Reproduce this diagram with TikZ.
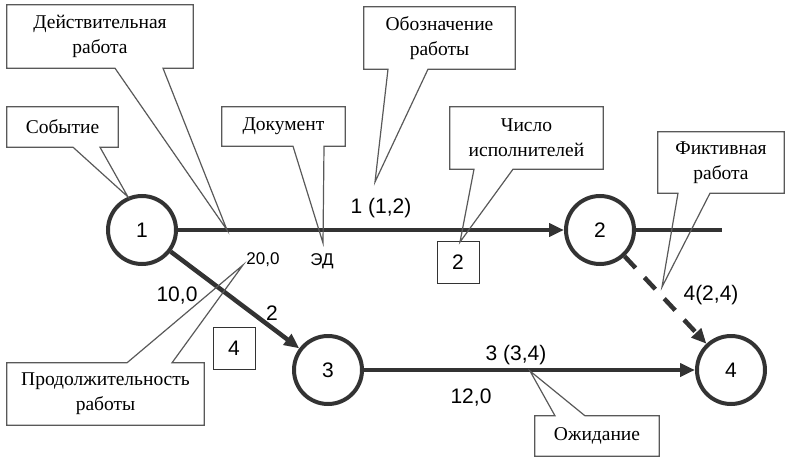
\documentclass[tikz,border=0pt]{standalone}
\usepackage{fontspec}
\setmainfont{Liberation Serif}
\setsansfont{Liberation Sans}
\usetikzlibrary{arrows.meta,positioning,calc}

\begin{document}
\begin{tikzpicture}[
    x=1pt, y=-1pt,
    event/.style={circle, draw=black!80, line width=4pt, minimum size=68pt, inner sep=0pt, font=\sffamily\fontsize{21}{24}\selectfont},
    work/.style={draw=black!80, line width=4.5pt, -{Triangle[length=15pt,width=13pt]}},
    dummy/.style={work, dash pattern=on 16pt off 13pt},
    note/.style={inner sep=0pt, align=center, font=\fontsize{19.5}{25}\selectfont},
    noteline/.style={draw=black!65, line width=1.2pt, line join=miter},
    num/.style={inner sep=0pt, font=\sffamily\fontsize{21}{24}\selectfont},
    small/.style={inner sep=0pt, font=\sffamily\fontsize{17}{20}\selectfont},
    crew/.style={draw=black!80, line width=1pt, minimum size=42pt, inner sep=0pt, font=\sffamily\fontsize{21}{24}\selectfont}
  ]
    \useasboundingbox (0,0) rectangle (793,463);

    % events
    \node[event] (n1) at (142,230) {1};
    \node[event] (n2) at (600,230) {2};
    \node[event] (n3) at (328,370) {3};
    \node[event] (n4) at (731,370) {4};
    \coordinate (n2out) at (722,230);

    % works
    \draw[work] (n1) -- (n2);
    \draw[work, -] (n2) -- (n2out);
    \draw[work] (n1) -- (n3);
    \draw[work] (n3) -- (n4);
    \draw[dummy] (n2) -- (n4);

    % work labels
    \node[num] (l12) at (381,208) {1 (1,2)};
    \node[small] (d12) at (263,260) {20,0};
    \node[small] (doc12) at (322,261) {ЭД};
    \node[num] (d13) at (177,296) {10,0};
    \node[num] (l13) at (272,313) {2};
    \node[crew] (c13) at (234,348) {4};
    \node[crew] (c12) at (458,262) {2};
    \node[num] (l24) at (711,295) {4(2,4)};
    \node[num] (l34) at (516,355) {3 (3,4)};
    \node[num] (d34) at (471,398) {12,0};

    % callouts
    \node[note, minimum width=186pt, minimum height=63pt] (nReal) at (100,36.5) {Действительная\\работа};
    \node[note, minimum width=111pt, minimum height=40pt] (nEvent) at (62.5,127) {Событие};
    \node[note, minimum width=123pt, minimum height=39pt] (nDoc) at (283.5,126.5) {Документ};
    \node[note, minimum width=151pt, minimum height=62pt] (nName) at (439.5,38) {Обозначение\\работы};
    \node[note, minimum width=153pt, minimum height=62pt] (nCrew) at (526.5,138) {Число\\исполнителей};
    \node[note, minimum width=126pt, minimum height=61pt] (nDummy) at (721,162.5) {Фиктивная\\работа};
    \node[note, minimum width=197pt, minimum height=62pt] (nDur) at (105.5,394) {Продолжительность\\работы};
    \node[note, minimum width=124pt, minimum height=40pt] (nWait) at (597,436) {Ожидание};

    \coordinate (tReal) at (227,230);
    \coordinate (tEvent) at (n1.113);
    \coordinate (tDoc) at (323,243);
    \coordinate (tName) at (375,182);
    \coordinate (tCrew) at (460,242);
    \coordinate (tDummy) at (662,287);
    \coordinate (tDur) at (243,265);
    \coordinate (tWait) at (530,371);

    \draw[noteline] (nReal.north west) -- (nReal.north east) -- (nReal.south east) -- (163,0 |- nReal.south) -- (tReal) -- (115,0 |- nReal.south) -- (nReal.south west) -- cycle;
    \draw[noteline] (nEvent.north west) -- (nEvent.north east) -- (nEvent.south east) -- (100,0 |- nEvent.south) -- (tEvent) -- (73,0 |- nEvent.south) -- (nEvent.south west) -- cycle;
    \draw[noteline] (nDoc.north west) -- (nDoc.north east) -- (nDoc.south east) -- (324,0 |- nDoc.south) -- (tDoc) -- (293,0 |- nDoc.south) -- (nDoc.south west) -- cycle;
    \draw[noteline] (nName.north west) -- (nName.north east) -- (nName.south east) -- (428,0 |- nName.south) -- (tName) -- (388,0 |- nName.south) -- (nName.south west) -- cycle;
    \draw[noteline] (nCrew.north west) -- (nCrew.north east) -- (nCrew.south east) -- (513,0 |- nCrew.south) -- (tCrew) -- (474,0 |- nCrew.south) -- (nCrew.south west) -- cycle;
    \draw[noteline] (nDummy.north west) -- (nDummy.north east) -- (nDummy.south east) -- (710,0 |- nDummy.south) -- (tDummy) -- (678,0 |- nDummy.south) -- (nDummy.south west) -- cycle;
    \draw[noteline] (nDur.south west) -- (nDur.south east) -- (nDur.north east) -- (172,0 |- nDur.north) -- (tDur) -- (127,0 |- nDur.north) -- (nDur.north west) -- cycle;
    \draw[noteline] (nWait.south west) -- (nWait.south east) -- (nWait.north east) -- (585,0 |- nWait.north) -- (tWait) -- (555,0 |- nWait.north) -- (nWait.north west) -- cycle;
  \end{tikzpicture}
\end{document}
